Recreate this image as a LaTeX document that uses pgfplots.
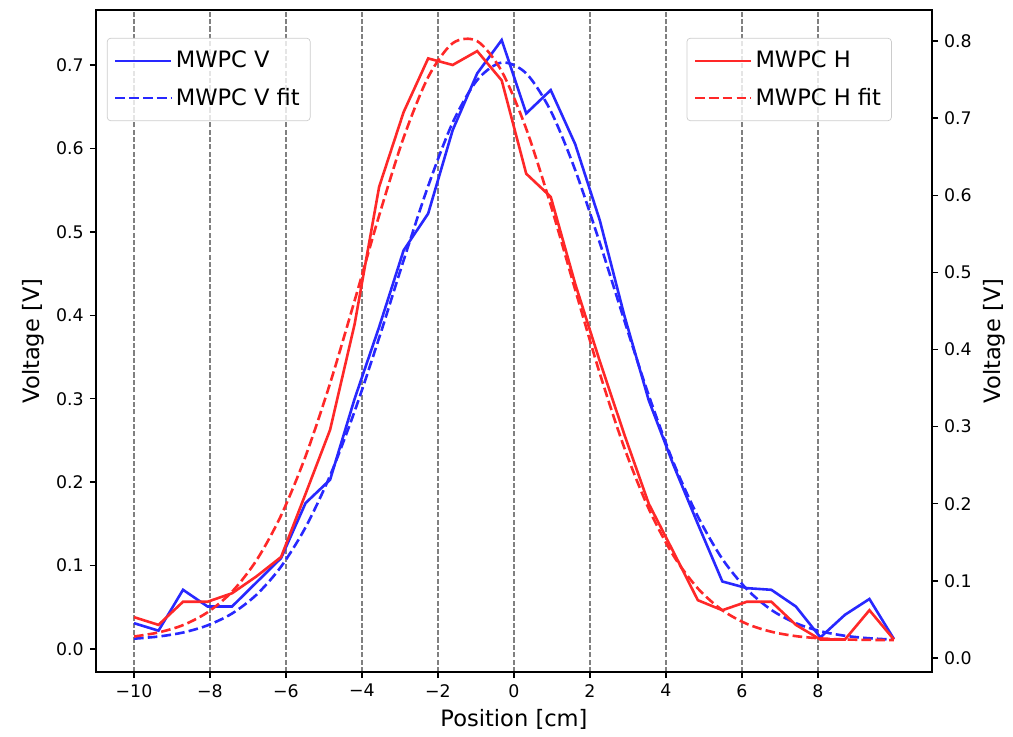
\documentclass[border=0pt]{standalone}
\usepackage{fontspec}
\setmainfont{DejaVu Sans}
\usepackage{pgfplots}
\usepackage{pgfplotstable}
\pgfplotsset{compat=1.18}
\definecolor{mblue}{RGB}{40,40,255}
\definecolor{mred}{RGB}{255,40,40}

\pgfplotstableread{
x y
-10 0.031
-9.3548 0.022
-8.7097 0.071
-8.0645 0.051
-7.4194 0.051
-6.7742 0.080
-6.1290 0.109
-5.4839 0.175
-4.8387 0.203
-4.1935 0.300
-3.5484 0.386
-2.9032 0.478
-2.2581 0.522
-1.6129 0.622
-0.9677 0.690
-0.3226 0.730
0.3226 0.642
0.9677 0.670
1.6129 0.605
2.2581 0.514
2.9032 0.400
3.5484 0.298
4.1935 0.221
4.8387 0.150
5.4839 0.081
6.1290 0.073
6.7742 0.071
7.4194 0.051
8.0645 0.014
8.7097 0.041
9.3548 0.060
10 0.012
}\vdata

\pgfplotstableread{
x y
-10 0.0124
-9.3548 0.0150
-8.7097 0.0198
-8.0645 0.0284
-7.4194 0.0426
-6.7742 0.0652
-6.1290 0.0988
-5.4839 0.146
-4.8387 0.208
-4.1935 0.285
-3.5484 0.373
-2.9032 0.466
-2.2581 0.555
-1.6129 0.631
-0.9677 0.682
-0.3226 0.703
0.3226 0.690
0.9677 0.645
1.6129 0.574
2.2581 0.487
2.9032 0.394
3.5484 0.304
4.1935 0.224
4.8387 0.159
5.4839 0.108
6.1290 0.0717
6.7742 0.0469
7.4194 0.0310
8.0645 0.0214
8.7097 0.0159
9.3548 0.0129
10 0.0113
}\vfit

\pgfplotstableread{
x y
-10 0.053
-9.3548 0.043
-8.7097 0.073
-8.0645 0.073
-7.4194 0.084
-6.7742 0.106
-6.1290 0.131
-5.4839 0.213
-4.8387 0.296
-4.1935 0.433
-3.5484 0.611
-2.9032 0.708
-2.2581 0.7775
-1.6129 0.769
-0.9677 0.787
-0.3226 0.749
0.3226 0.628
0.9677 0.598
1.6129 0.485
2.2581 0.385
2.9032 0.290
3.5484 0.200
4.1935 0.138
4.8387 0.075
5.4839 0.062
6.1290 0.073
6.7742 0.073
7.4194 0.043
8.0645 0.024
8.7097 0.024
9.3548 0.062
10 0.024
}\hdata

\pgfplotstableread{
x y
-10 0.0279
-9.3548 0.0332
-8.7097 0.0427
-8.0645 0.0593
-7.4194 0.0860
-6.7742 0.1269
-6.1290 0.1849
-5.4839 0.2618
-4.8387 0.3563
-4.1935 0.4635
-3.5484 0.5738
-2.9032 0.6749
-2.2581 0.7532
-1.6129 0.7972
-0.9677 0.7999
-0.3226 0.7608
0.3226 0.6862
0.9677 0.5872
1.6129 0.4773
2.2581 0.3692
2.9032 0.2727
3.5484 0.1934
4.1935 0.1331
4.8387 0.0903
5.4839 0.0620
6.1290 0.0443
6.7742 0.0341
7.4194 0.0284
8.0645 0.0255
8.7097 0.0241
9.3548 0.0235
10 0.0232
}\hfit

\begin{document}
\begin{tikzpicture}
\useasboundingbox (-55.3pt,-36.9pt) rectangle (528.2pt,387.1pt);
\pgfplotsset{
  every axis/.append style={
    scale only axis, width=481.5pt, height=381.3pt,
    xmin=-11, xmax=11,
    font=\fontsize{10}{12}\selectfont,
    tick align=outside, major tick length=3.5pt,
    every tick/.style={black, line width=0.8pt},
    axis line style={line width=0.8pt},
    label style={font=\fontsize{13}{15}\selectfont},
    legend cell align=left,
    legend image code/.code={\draw[#1] (0pt,0pt) -- (27.6pt,0pt); \path (0pt,0pt) -- (32pt,0pt);},
    legend style={font=\fontsize{13}{15}\selectfont, draw=black!20, rounded corners=2pt,
      fill=white, fill opacity=0.8, text opacity=1, inner xsep=4pt, inner ysep=5.5pt,
      row sep=6pt},
  },
  fitstyle/.style={line width=1.5pt, dash pattern=on 5.55pt off 2.4pt, smooth},
  datastyle/.style={line width=1.5pt},
}
\begin{axis}[
  ymin=-0.02757, ymax=0.7659,
  xtick={-10,-8,-6,-4,-2,0,2,4,6,8},
  xticklabels={−10,−8,−6,−4,−2,0,2,4,6,8},
  ytick={0,0.1,0.2,0.3,0.4,0.5,0.6,0.7},
  yticklabels={0.0,0.1,0.2,0.3,0.4,0.5,0.6,0.7},
  xtick pos=bottom, ytick pos=left,
  xmajorgrids, grid style={gray, line width=0.8pt, dash pattern=on 2.96pt off 1.28pt},
  xlabel={Position [cm]}, ylabel={Voltage [V]},
  legend style={at={(0.013,0.958)}, anchor=north west},
]
\addplot[mblue, datastyle] table[x=x,y=y] {\vdata};
\addlegendentry{MWPC V}
\addplot[mblue, fitstyle] table[x=x,y=y] {\vfit};
\addlegendentry{MWPC V fit}
\end{axis}
\begin{axis}[
  ymin=-0.01815, ymax=0.8402,
  axis x line=none, axis y line*=right,
  ytick={0,0.1,0.2,0.3,0.4,0.5,0.6,0.7,0.8},
  yticklabels={0.0,0.1,0.2,0.3,0.4,0.5,0.6,0.7,0.8},
  ylabel={Voltage [V]},
  legend style={at={(0.952,0.958)}, anchor=north east},
]
\addplot[mred, datastyle] table[x=x,y=y] {\hdata};
\addlegendentry{MWPC H}
\addplot[mred, fitstyle] table[x=x,y=y] {\hfit};
\addlegendentry{MWPC H fit}
\end{axis}
\end{tikzpicture}
\end{document}
